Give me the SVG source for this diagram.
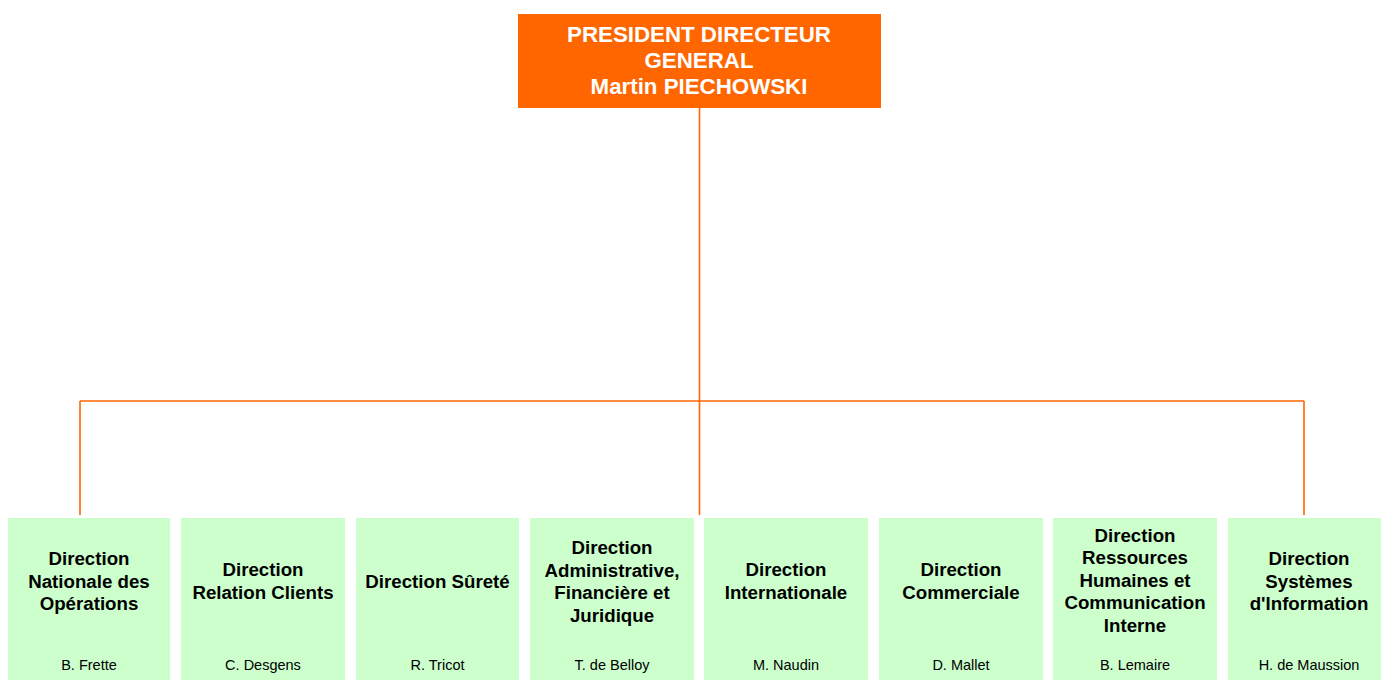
<svg xmlns="http://www.w3.org/2000/svg" width="1381" height="680" viewBox="0 0 1381 680">
<style>
.top{fill:#FF6600}
.box{fill:#CCFFCC}
.tt{font-family:"Liberation Sans",Arial,sans-serif;font-weight:bold;font-size:22.3px;fill:#FFFFFF;text-anchor:middle}
.t{font-family:"Liberation Sans",Arial,sans-serif;font-weight:bold;font-size:18.7px;fill:#000000;text-anchor:middle}
.n{font-family:"Liberation Sans",Arial,sans-serif;font-size:14.5px;fill:#000000;text-anchor:middle}
.c{stroke:#FF6600;stroke-width:1.6;fill:none}
</style>
<rect width="1381" height="680" fill="#FFFFFF"/>
<g id="connectors">
<line class="c" x1="699.5" y1="108" x2="699.5" y2="515"/>
<line class="c" x1="80" y1="401" x2="1304" y2="401"/>
<line class="c" x1="80" y1="401" x2="80" y2="515"/>
<line class="c" x1="1304" y1="401" x2="1304" y2="515"/>
</g>
<g id="pdg">
<rect class="top" x="518" y="14" width="363" height="94"/>
<text class="tt" x="699" y="41.7">PRESIDENT DIRECTEUR</text>
<text class="tt" x="699" y="67.7">GENERAL</text>
<text class="tt" x="699" y="93.7">Martin PIECHOWSKI</text>
</g>
<g id="dno">
<rect class="box" x="8" y="518" width="162" height="162"/>
<text class="t" x="89" y="565">Direction</text>
<text class="t" x="89" y="587.5">Nationale des</text>
<text class="t" x="89" y="610">Opérations</text>
<text class="n" x="89" y="669.5">B. Frette</text>
</g>
<g id="drc">
<rect class="box" x="181" y="518" width="164" height="162"/>
<text class="t" x="263" y="576">Direction</text>
<text class="t" x="263" y="598.5">Relation Clients</text>
<text class="n" x="263" y="669.5">C. Desgens</text>
</g>
<g id="ds">
<rect class="box" x="356" y="518" width="163" height="162"/>
<text class="t" x="437.5" y="587.5">Direction Sûreté</text>
<text class="n" x="437.5" y="669.5">R. Tricot</text>
</g>
<g id="dafj">
<rect class="box" x="530" y="518" width="164" height="162"/>
<text class="t" x="612" y="554">Direction</text>
<text class="t" x="612" y="576.5">Administrative,</text>
<text class="t" x="612" y="599">Financière et</text>
<text class="t" x="612" y="621.5">Juridique</text>
<text class="n" x="612" y="669.5">T. de Belloy</text>
</g>
<g id="di">
<rect class="box" x="704" y="518" width="164" height="162"/>
<text class="t" x="786" y="576">Direction</text>
<text class="t" x="786" y="598.5">Internationale</text>
<text class="n" x="786" y="669.5">M. Naudin</text>
</g>
<g id="dc">
<rect class="box" x="879" y="518" width="164" height="162"/>
<text class="t" x="961" y="576">Direction</text>
<text class="t" x="961" y="598.5">Commerciale</text>
<text class="n" x="961" y="669.5">D. Mallet</text>
</g>
<g id="drh">
<rect class="box" x="1053" y="518" width="164" height="162"/>
<text class="t" x="1135" y="541.7">Direction</text>
<text class="t" x="1135" y="564.2">Ressources</text>
<text class="t" x="1135" y="586.7">Humaines et</text>
<text class="t" x="1135" y="609.2">Communication</text>
<text class="t" x="1135" y="631.7">Interne</text>
<text class="n" x="1135" y="669.5">B. Lemaire</text>
</g>
<g id="dsi">
<rect class="box" x="1228" y="518" width="163" height="162"/>
<text class="t" x="1309" y="565">Direction</text>
<text class="t" x="1309" y="587.5">Systèmes</text>
<text class="t" x="1309" y="610">d'Information</text>
<text class="n" x="1309" y="669.5">H. de Maussion</text>
</g>
</svg>
